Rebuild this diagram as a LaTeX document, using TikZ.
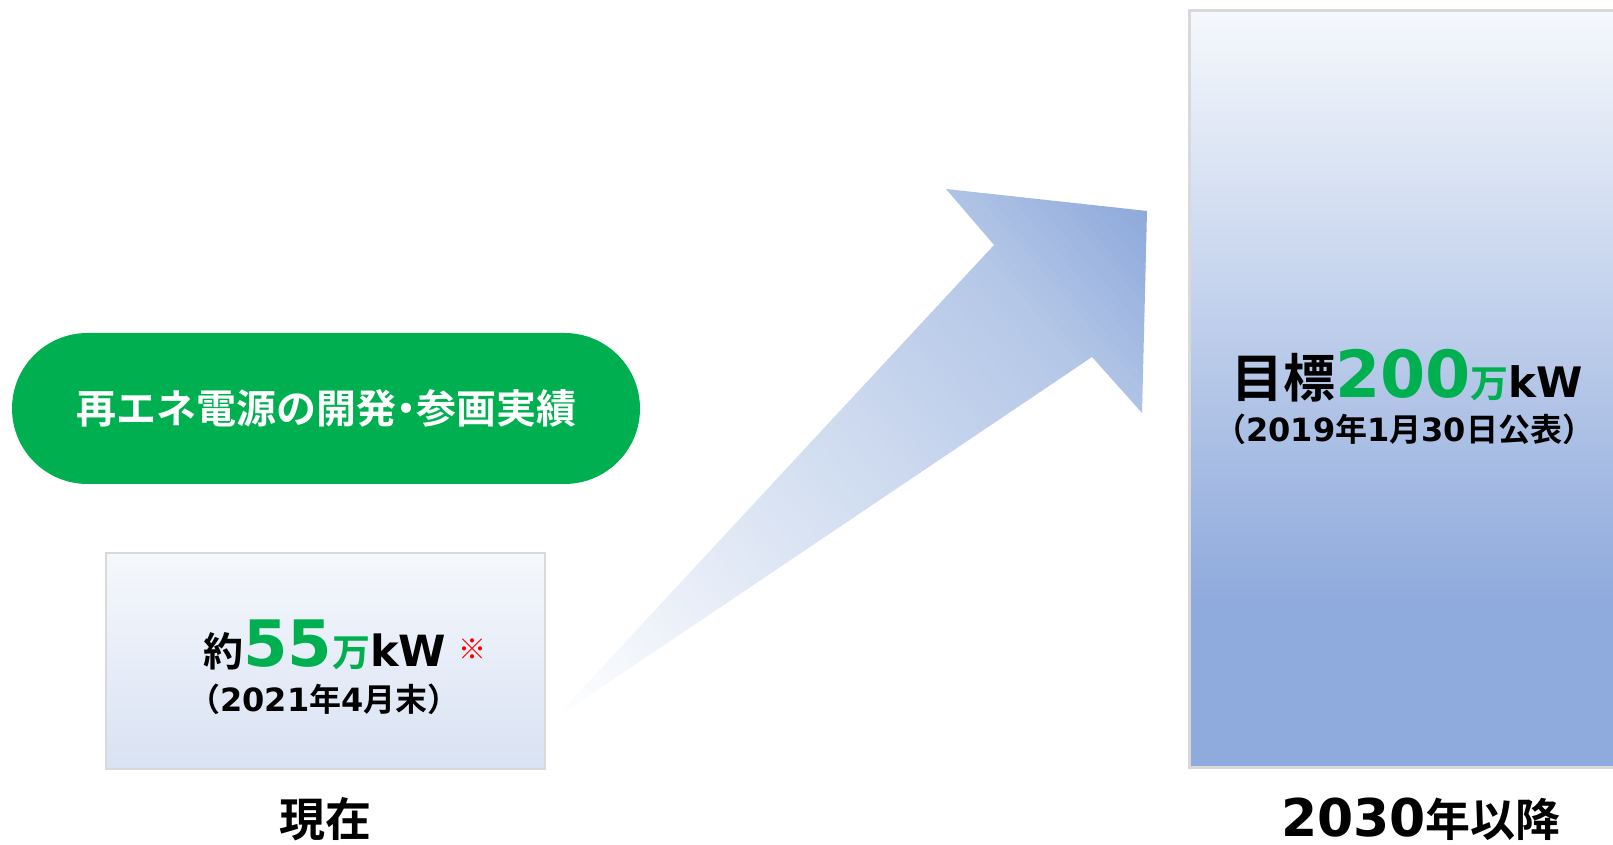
\documentclass[tikz,border=0pt]{standalone}
\usepackage{fontspec}
\newfontfamily\jp{Noto Sans CJK JP}[BoldFont={Noto Sans CJK JP Bold}]
\newfontfamily\lat{DejaVu Sans}
\newcommand\JPf[1]{\jp\bfseries\fontsize{#1}{#1}\selectfont}
\newcommand\LAf[1]{\lat\bfseries\fontsize{#1}{#1}\selectfont}
\definecolor{kgreen}{HTML}{00B050}
\definecolor{boxblue}{HTML}{8FAADC}
\definecolor{boxtop}{HTML}{F5F8FC}
\definecolor{boxlow}{HTML}{D9E2F3}
\definecolor{arrowmid}{HTML}{B4C7E7}
\definecolor{arrowtip}{HTML}{8EA9DB}
\definecolor{bordergray}{HTML}{D9D9D9}
\pgfdeclareverticalshading{tallshade}{100bp}{color(0bp)=(boxblue); color(36bp)=(boxblue); color(75bp)=(boxtop); color(100bp)=(boxtop)}
\tikzset{
  pill/.style={draw=none, fill=kgreen, rounded corners=75.5pt, minimum width=628pt, minimum height=151pt, inner sep=0pt},
  nowbox/.style={draw=bordergray, line width=2.5pt, top color=boxtop, bottom color=boxlow, minimum width=439pt, minimum height=216pt, inner sep=0pt},
  goalbox/.style={draw=bordergray, line width=2.5pt, shading=tallshade, anchor=south west, minimum width=460pt, minimum height=757pt, inner sep=0pt},
  txt/.style={inner sep=0pt, anchor=base west},
  lbl/.style={inner sep=0pt},
}
\begin{document}
\begin{tikzpicture}[x=1pt,y=1pt]
\useasboundingbox (0,0) rectangle (1613,845);
\clip (0,0) rectangle (1613,845);
% right tall box
\node[goalbox] (goal) at (1188,76) {};
% left box
\node[nowbox] (now) at (325.5,184) {};
% green pill
\node[pill] (pill) at (326,436.5) {\JPf{40}\color{white}再エネ電源の開発\makebox[0.5em]{・}参画実績};
% arrow
\coordinate (tail) at (553,125);
\coordinate (notchL) at (994,600);
\coordinate (headL) at (946,656);
\coordinate (tip) at (1147,634);
\coordinate (headR) at (1142,432);
\coordinate (notchR) at (1092,488);
\begin{scope}
\clip (tail) -- (notchL) -- (headL) -- (tip) -- (headR) -- (notchR) -- cycle;
\foreach \i in {0,...,99}{
  \pgfmathsetmacro\f{(\i+0.5)*8/782}
  \pgfmathsetmacro\pa{min(100,\f/0.8*100)}
  \pgfmathsetmacro\pb{max(0,min(100,(\f-0.8)/0.2*100))}
  \pgfmathsetmacro\xa{553+\i*8}
  \fill[arrowtip!\pb!arrowmid!\pa!white, rotate around={40.6:(553,125)}] (\xa,-375) rectangle ++(8.8,1000);
}
\end{scope}
% left box text
\node[txt] (val55) at (203,178) {{\JPf{40}約}{\LAf{64}\color{kgreen}55}{\JPf{38}\color{kgreen}万}{\LAf{43}kW}};
\node[lbl] (note) at (472,196) {\JPf{28}\color{red}※};
\node[txt] (date21) at (188,133) {{\JPf{32}（}{\LAf{32}2021}{\JPf{32}年}{\LAf{32}4}{\JPf{32}月末）}};
% right box text
\node[txt] (val200) at (1231,447) {{\JPf{52}目標}{\LAf{65}\color{kgreen}200}{\JPf{38}\color{kgreen}万}{\LAf{42}kW}};
\node[txt] (date19) at (1214,403) {{\JPf{32}（}{\LAf{32}2019}{\JPf{32}年}{\LAf{32}1}{\JPf{32}月}{\LAf{32}30}{\JPf{32}日公表）}};
% bottom labels
\node[lbl, anchor=base] (nowlbl) at (325,8) {\JPf{46}現在};
\node[txt] (goallbl) at (1281,8) {{\LAf{52}2030}{\JPf{45}年以降}};
\end{tikzpicture}
\end{document}
